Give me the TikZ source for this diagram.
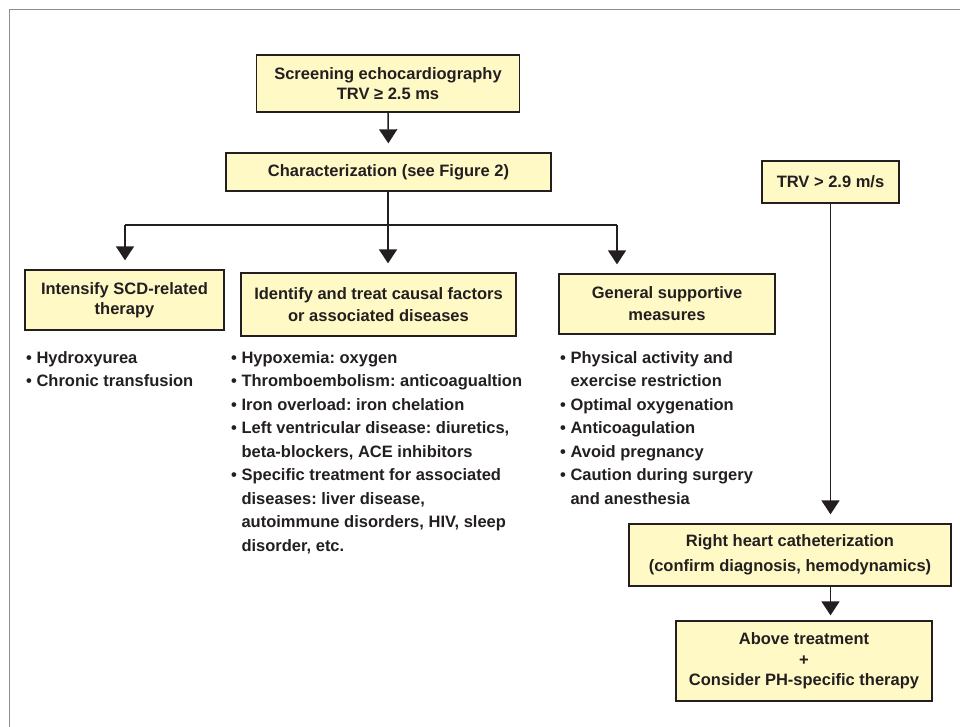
\documentclass[tikz,border=0pt]{standalone}
\usepackage{fontspec}
\setmainfont{Liberation Sans}
\usetikzlibrary{arrows.meta}
\frenchspacing
\definecolor{boxfill}{HTML}{FFF9C6}
\definecolor{inkdark}{HTML}{231F20}
\definecolor{framegray}{HTML}{8C8C8C}
\tikzset{
  stepbox/.style={draw=inkdark, fill=boxfill, line width=1.3pt, inner sep=0pt, align=center,
    text=inkdark, font=\fontsize{16.5}{20}\selectfont\bfseries},
  listtext/.style={inner sep=0pt, align=left, anchor=north west, text=inkdark,
    font=\fontsize{16.5}{23.5}\selectfont\bfseries},
  flow/.style={draw=inkdark, line width=1.5pt},
  arr/.style={flow, -{Triangle[width=18pt,length=14pt]}, shorten >=9pt},
}
\newcommand{\bul}{\textbullet\ }
\newcommand{\ind}{\phantom{\textbullet\ }}
\begin{document}
\begin{tikzpicture}[x=1pt,y=-1pt]
        \useasboundingbox (0,0) rectangle (960,727);
        % Frame
        \draw[framegray, line width=1pt] (9,740) -- (9,10) -- (975,10);

        % Boxes
        \node[stepbox, minimum width=263pt, minimum height=57pt] (screen) at (388,83.5)
          {Screening echocardiography\\TRV ≥ 2.5 ms};
        \node[stepbox, minimum width=325pt, minimum height=38pt] (charac) at (388.5,172)
          {Characterization (see Figure 2)};
        \node[stepbox, minimum width=199pt, minimum height=60pt] (intens) at (124.5,300)
          {Intensify SCD-related\\therapy};
        \node[stepbox, minimum width=275pt, minimum height=63pt] (causal) at (378.5,304.5)
          {Identify and treat causal factors\\[2pt]or associated diseases};
        \node[stepbox, minimum width=216pt, minimum height=60pt] (support) at (667,304)
          {General supportive\\[2pt]measures};
        \node[stepbox, minimum width=137pt, minimum height=42pt] (trvhigh) at (830.5,182)
          {TRV > 2.9 m/s};
        \node[stepbox, minimum width=322pt, minimum height=62pt] (rhc) at (790,555)
          {Right heart catheterization\\[5pt](confirm diagnosis, hemodynamics)};
        \node[stepbox, minimum width=256pt, minimum height=80pt] (treat) at (804,661)
          {Above treatment\\[0.5pt]+\\[0.5pt]Consider PH-specific therapy};

        % Arrows
        \coordinate (fork) at (388,225);
        \coordinate (forkL) at (125,225);
        \coordinate (forkR) at (617,225);
        \draw[arr] (screen.south) -- (charac.north);
        \draw[flow] (charac.south -| fork) -- (fork);
        \draw[flow] (forkL) -- (forkR);
        \draw[arr] (forkL) -- (forkL |- intens.north);
        \draw[arr] (fork) -- (fork |- causal.north);
        \draw[arr] (forkR) -- (forkR |- support.north);
        \draw[arr] (trvhigh.south) -- (trvhigh.south |- rhc.north);
        \draw[arr, shorten >=5pt] (trvhigh.south |- rhc.south) -- (trvhigh.south |- treat.north);

        % Lists
        \node[listtext] (sickle) at (26,351)
          {\bul Hydroxyurea\\ \bul Chronic transfusion};
        \node[listtext] (factors) at (231,351)
          {\bul Hypoxemia: oxygen\\
           \bul Thromboembolism: anticoagualtion\\
           \bul Iron overload: iron chelation\\
           \bul Left ventricular disease: diuretics,\\
           \ind beta-blockers, ACE inhibitors\\
           \bul Specific treatment for associated\\
           \ind diseases: liver disease,\\
           \ind autoimmune disorders, HIV, sleep\\
           \ind disorder, etc.};
        \node[listtext] (measures) at (560,351)
          {\bul Physical activity and\\
           \ind exercise restriction\\
           \bul Optimal oxygenation\\
           \bul Anticoagulation\\
           \bul Avoid pregnancy\\
           \bul Caution during surgery\\
           \ind and anesthesia};
    \end{tikzpicture}
\end{document}
